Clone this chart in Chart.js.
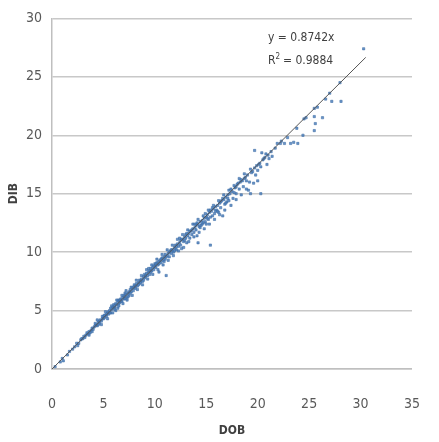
<!DOCTYPE html>
<html>
<head>
<meta charset="utf-8">
<script src="https://cdn.jsdelivr.net/npm/chart.js@4.4.1/dist/chart.umd.min.js"></script>
<style>
  html, body { margin: 0; padding: 0; background: #fff; }
  #wrap { width: 439px; height: 442px; }
</style>
</head>
<body>
<div id="wrap"><canvas id="chart"></canvas></div>
<script>
// DOB / DIB pairs (estimates)
const treeData = [
  [0.3,0.2],[0.8,0.6],[1.0,0.9],[1.1,0.7],[1.5,1.2],[1.7,1.5],[2.0,1.7],[2.2,1.9],[2.4,2.2],[2.6,2.2],
  [2.8,2.5],[3.0,2.6],[3.1,2.8],[3.3,2.9],[3.5,3.0],[3.6,3.2],[3.8,3.3],[3.9,3.5],[4.0,3.4],[4.1,3.6],
  [4.3,3.8],[4.4,3.7],[4.5,4.0],[4.6,3.9],[4.7,4.2],[4.8,4.1],[4.9,4.3],[5.0,4.3],[5.0,4.5],[5.1,4.4],
  [5.2,4.6],[5.3,4.5],[5.4,4.8],[5.5,4.7],[5.5,4.9],[5.6,5.0],[5.7,4.8],[5.8,5.1],[5.9,5.3],[6.0,5.2],
  [6.0,5.5],[6.1,5.3],[6.2,5.6],[6.2,5.0],[6.3,5.5],[6.4,5.8],[6.5,5.6],[6.5,5.9],[6.6,5.7],[6.7,6.0],
  [6.8,5.8],[6.9,6.1],[7.0,6.0],[7.0,6.3],[7.1,6.2],[7.2,6.4],[7.3,6.1],[7.4,6.5],[7.5,6.6],[7.5,6.3],
  [7.6,6.8],[7.7,6.6],[7.8,6.9],[7.9,6.7],[8.0,7.0],[8.0,7.2],[8.1,6.9],[8.2,7.3],[8.3,7.1],[8.4,7.4],
  [8.5,7.3],[8.5,7.6],[8.6,7.5],[8.7,7.7],[8.8,7.5],[8.9,7.9],[9.0,7.8],[9.0,8.1],[9.1,7.9],[9.2,8.2],
  [9.3,8.0],[9.4,8.3],[9.5,8.4],[9.5,8.1],[9.6,8.6],[9.7,8.4],[9.8,8.7],[9.9,8.5],[10.0,8.8],[10.0,9.0],
  [10.1,8.7],[10.2,9.1],[10.3,8.9],[10.4,9.2],[10.4,8.3],[10.5,9.3],[10.6,9.1],[10.7,9.5],[10.8,9.3],[10.9,9.6],
  [11.0,9.4],[11.0,9.8],[11.1,8.0],[11.2,9.7],[11.3,9.9],[11.4,9.6],[11.5,10.1],[11.6,9.9],[11.7,10.2],[11.8,10.0],
  [11.9,10.4],[12.0,10.3],[12.0,10.6],[12.1,10.2],[12.2,10.7],[12.3,10.5],[12.4,10.8],[12.5,10.6],[12.5,11.0],[12.6,10.3],
  [12.7,11.1],[12.8,10.9],[12.9,11.3],[13.0,11.2],[13.0,11.5],[13.1,10.8],[13.2,11.4],[13.3,11.6],[13.4,11.2],[13.5,11.8],
  [13.6,11.5],[13.7,12.0],[13.8,11.7],[13.9,12.1],[14.0,11.9],[14.0,12.3],[14.1,11.4],[14.2,12.4],[14.2,10.8],[14.3,12.2],
  [14.4,12.6],[14.5,12.3],[14.6,12.7],[14.7,12.5],[14.8,12.9],[14.9,12.6],[15.0,13.0],[15.0,12.4],[15.1,13.2],[15.2,12.8],
  [15.3,13.4],[15.4,13.0],[15.4,10.6],[15.5,13.5],[15.6,13.1],[15.7,13.7],[15.8,13.3],[15.9,13.9],[16.0,13.6],[16.1,14.0],
  [16.2,13.4],[16.3,14.2],[16.4,13.8],[16.5,14.4],[16.6,13.1],[16.7,14.5],[16.8,14.1],[16.9,14.7],[17.0,14.3],[17.1,14.9],
  [17.2,14.4],[17.3,15.0],[17.5,15.2],[17.6,14.6],[17.8,15.5],[17.9,15.0],[18.0,15.8],[18.2,15.4],[18.3,16.0],[18.5,16.1],
  [18.6,15.6],[18.8,16.4],[19.0,16.6],[19.1,15.3],[19.2,16.0],[19.3,15.0],[19.5,16.9],[19.7,17.2],[19.7,18.7],[19.9,17.4],
  [20.0,17.0],[20.0,16.1],[20.2,17.6],[20.3,15.0],[20.4,18.5],[20.5,17.9],[20.7,18.1],[20.9,17.5],[21.0,18.3],[21.3,18.6],
  [21.9,19.3],[22.2,19.3],[22.6,19.3],[23.2,19.3],[23.5,19.4],[23.9,19.3],[24.4,20.0],[24.5,21.4],[25.5,22.3],[25.5,21.6],
  [25.6,21.0],[25.5,20.4],[26.3,21.5],[27.0,23.6],[27.2,22.9],[28.1,22.9],[28.0,24.5],[30.3,27.4],
  [3.2,2.7],[3.7,3.1],[4.2,3.7],[4.6,4.1],[5.1,4.6],[5.6,4.8],[6.1,5.4],[6.6,5.9],[7.1,6.0],[7.6,6.5],
  [8.1,7.1],[8.6,7.4],[9.1,8.0],[9.6,8.3],[10.1,9.0],[10.6,9.4],[11.1,9.6],[11.6,10.2],[12.1,10.5],[12.6,11.1],
  [13.1,11.6],[13.6,11.9],[14.1,12.5],[14.6,12.4],[15.1,12.9],[15.6,13.8],[16.1,13.5],[16.6,14.6],[17.1,14.6],[17.7,15.1],
  [18.1,15.9],[18.7,16.3],[19.4,16.8],[20.1,17.5],[20.6,18.0],[21.1,18.0],[21.7,18.9],[22.3,19.5],
  // wider spread in the main band
  [4.4,4.2],[4.8,3.8],[5.2,4.9],[5.4,4.3],[5.8,5.4],[5.9,4.8],[6.3,5.9],[6.4,5.2],[6.8,6.3],[6.9,5.6],
  [7.2,6.7],[7.3,5.9],[7.7,7.0],[7.8,6.3],[8.2,7.6],[8.3,6.8],[8.7,8.0],[8.8,7.2],[9.2,8.5],[9.3,7.7],
  [9.7,8.9],[9.8,8.1],[10.2,9.4],[10.3,8.5],[10.7,9.8],[10.8,8.9],[11.2,10.2],[11.3,9.3],[11.7,10.6],[11.8,9.7],
  [12.2,11.1],[12.3,10.1],[12.7,11.5],[12.8,10.4],[13.2,11.9],[13.3,10.9],[13.7,12.4],[13.8,11.3],[14.2,12.8],[14.3,11.7],
  [14.7,13.1],[14.8,12.0],[15.2,13.6],[15.3,12.4],[15.7,14.0],[15.8,12.8],[16.2,14.4],[16.3,13.2],[16.7,14.9],[16.8,13.6],
  [17.2,15.3],[17.4,14.0],[17.7,15.7],[17.9,14.5],[18.2,16.3],[18.4,14.9],[18.7,16.7],[18.9,15.4],[19.3,17.1],[19.6,15.9],
  [2.5,2.0],[2.9,2.6],[3.4,3.1],[3.6,2.9],[3.9,3.2],[4.2,3.9],[4.5,3.8],[4.9,4.5],[5.3,4.7],[5.7,5.2],
  [6.1,5.1],[6.5,5.4],[6.7,5.8],[7.1,6.5],[7.4,6.2],[7.9,7.0],[8.4,7.2],[8.9,7.6],[9.4,8.6],[9.9,8.8],
  [10.4,9.0],[10.9,9.2],[11.4,10.0],[11.9,10.1],[12.4,11.2],[12.9,11.0],[13.4,11.8],[13.9,12.4],[14.4,12.1],[14.9,13.3],
  [15.4,13.6],[15.9,13.5],[16.4,14.3],[16.9,14.2],[17.4,15.4],[17.9,15.6],[18.4,16.2],[18.9,16.1],[19.8,16.6],[20.3,17.3],
  [20.8,18.4],[21.4,18.2],[22.9,19.8],[23.8,20.6],[24.7,21.5],[25.8,22.4],[26.6,23.1]
];

const xTickValues = [0, 5, 10, 15, 20, 25, 30, 35];
const yTickValues = [0, 5, 10, 15, 20, 25, 30];
const trendSlope = 0.8742;
const trendRange = [0, 30.5];
const eqText = 'y = 0.8742x';
const r2Value = '0.9884';

const fontFamily = "'DejaVu Sans Condensed', 'Liberation Sans Narrow', 'Arial Narrow', sans-serif";
const tickFont = { family: fontFamily, size: 14 };
const titleFont = { family: fontFamily, size: 12, weight: 'bold' };

// equation + R² label, Excel style
const trendLabel = {
    id: 'trendLabel',
    afterDatasetsDraw(chart) {
        const ctx = chart.ctx;
        const sx = chart.scales.x, sy = chart.scales.y;
        const x0 = sx.getPixelForValue(21.0);
        ctx.save();
        ctx.fillStyle = '#404040';
        ctx.textBaseline = 'middle';
        ctx.font = "12px " + fontFamily;
        ctx.fillText(eqText, x0, sy.getPixelForValue(28.3));
        const yR = sy.getPixelForValue(26.4);
        ctx.fillText('R', x0, yR);
        const w = ctx.measureText('R').width;
        ctx.font = "8px " + fontFamily;
        ctx.fillText('2', x0 + w, yR - 4);
        ctx.font = "12px " + fontFamily;
        ctx.fillText(' = ' + r2Value, x0 + w + 4, yR);
        ctx.restore();
    }
};

new Chart(document.getElementById('chart'), {
    type: 'scatter',
    data: {
        datasets: [
            {
                label: 'DIB',
                data: treeData.map(p => ({ x: p[0], y: p[1] })),
                pointStyle: 'rect',
                pointRadius: 1.6,
                backgroundColor: 'rgba(79,129,189,0.85)',
                borderColor: 'rgba(58,106,163,0.9)',
                borderWidth: 0.6,
                order: 2
            },
            {
                label: 'Linear',
                type: 'line',
                data: trendRange.map(x => ({ x: x, y: trendSlope * x })),
                borderColor: '#555555',
                borderWidth: 1,
                pointRadius: 0,
                fill: false,
                order: 1
            }
        ]
    },
    options: {
        responsive: true,
        maintainAspectRatio: false,
        animation: false,
        layout: { padding: { left: 0, right: 8, top: 17, bottom: 0 } },
        plugins: {
            legend: { display: false },
            tooltip: { enabled: false }
        },
        scales: {
            x: {
                type: 'linear',
                min: 0, max: 35,
                afterBuildTicks: s => { s.ticks = xTickValues.map(v => ({ value: v })); },
                afterFit: s => { s.height = 73; },
                grid: { display: false },
                border: { display: true, color: '#bfbfbf', width: 1.5 },
                ticks: { color: '#595959', font: tickFont, padding: 19 },
                title: { display: true, text: 'DOB', color: '#404040', font: titleFont, padding: { top: 0, bottom: 4 } }
            },
            y: {
                type: 'linear',
                min: 0, max: 30,
                afterBuildTicks: s => { s.ticks = yTickValues.map(v => ({ value: v })); },
                afterFit: s => { s.width = 52; },
                grid: { color: '#c8c8c8', lineWidth: 1.5, drawTicks: false },
                border: { display: true, color: '#bfbfbf', width: 1.5 },
                ticks: { color: '#595959', font: tickFont, padding: 10 },
                title: { display: true, text: 'DIB', color: '#404040', font: titleFont, padding: { top: 7, bottom: 0 } }
            }
        }
    },
    plugins: [trendLabel]
});
</script>
</body>
</html>
